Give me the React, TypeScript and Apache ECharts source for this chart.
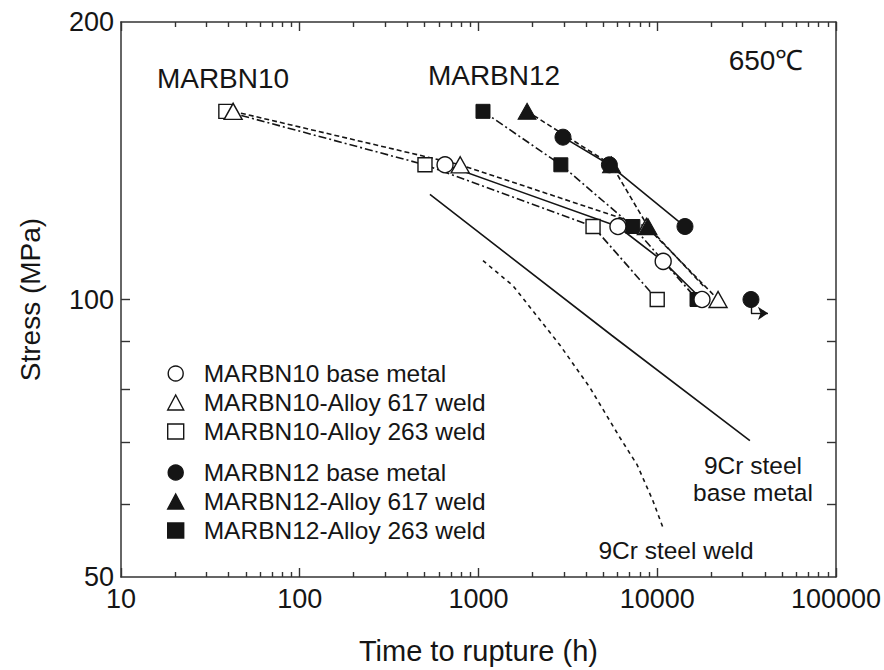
import React, { useEffect, useRef } from "react";
import * as echarts from "echarts";

// ---- axis ranges and tick values ----
const X_MIN = 10;
const X_MAX = 100000;
const Y_MIN = 50;
const Y_MAX = 200;
const xLabelValues = [10, 100, 1000, 10000, 100000];
const xMinorTickValues = [
  20, 30, 40, 50, 60, 70, 80, 90,
  200, 300, 400, 500, 600, 700, 800, 900,
  2000, 3000, 4000, 5000, 6000, 7000, 8000, 9000,
  20000, 30000, 40000, 50000, 60000, 70000, 80000, 90000,
];
const yLabelValues = [50, 100, 200];
const yTickValues = [60, 70, 80, 90, 100];

// ---- data: [time to rupture (h), stress (MPa)] ----
const marbn10Base = [[650, 140], [6030, 120], [10800, 110], [17800, 100]];
const marbn10Alloy617 = [[42.4, 160], [790, 140], [8700, 120], [21900, 100]];
const marbn10Alloy263 = [[38.6, 160], [502, 140], [4375, 120], [10000, 100]];
const marbn12Base = [[2970, 150], [5400, 140], [14300, 120]];
const marbn12BaseRunning = [[33460, 100]];
const marbn12Alloy617 = [[1870, 160], [5550, 140], [8870, 120]];
const marbn12Alloy617Tail = [[18500, 103]];
const marbn12Alloy263 = [[1060, 160], [2890, 140], [7310, 120], [16700, 100]];
const steel9CrBase = [[535, 130], [5580, 91.4], [33000, 70.3]];
const steel9CrWeld = [
  [1060, 110.2], [1560, 103.5], [2860, 89.2], [4210, 80.2],
  [6190, 70.8], [7710, 66.2], [9460, 60.5], [10760, 56.6],
];
const runningArrowDrop = [[33460, 98.5], [33460, 96.6]];
const runningArrowRun = [[33460, 96.6], [41660, 96.6]];

const legendGroup1 = ["MARBN10 base metal", "MARBN10-Alloy 617 weld", "MARBN10-Alloy 263 weld"];
const legendGroup2 = ["MARBN12 base metal", "MARBN12-Alloy 617 weld", "MARBN12-Alloy 263 weld"];

const FONT = "Liberation Sans, Arial, Helvetica, sans-serif";
const INK = "#151515";
const DASH = [5, 3];
const DASHDOT = [8, 3, 2, 3];

const lg = (v: number) => Math.log10(v);

export default function App() {
  const ref = useRef<HTMLDivElement>(null);

  useEffect(() => {
    if (!ref.current) return;
    const chart = echarts.init(ref.current, undefined, { renderer: "svg" });

    const line = (name: string, data: number[][], type: any) => ({
      type: "line",
      name,
      data,
      xAxisIndex: 0,
      yAxisIndex: 0,
      symbol: "none",
      silent: true,
      z: 2,
      lineStyle: { color: INK, width: 1.6, type },
    });

    const scatter = (
      name: string,
      data: number[][],
      symbol: string,
      size: any,
      open: boolean,
      z: number
    ) => ({
      type: "scatter",
      name,
      data,
      xAxisIndex: 0,
      yAxisIndex: 0,
      symbol,
      symbolSize: size,
      silent: true,
      z,
      itemStyle: open
        ? { color: "#fff", borderColor: INK, borderWidth: 1.4, opacity: 1 }
        : { color: INK, borderColor: INK, borderWidth: 1, opacity: 1 },
    });

    const hiddenAxisBase = {
      splitLine: { show: false },
      axisLine: { show: false },
      axisTick: { show: false },
      axisLabel: { show: false },
    };

    const tickAxisX = (position: string, values: number[], length: number, labels: boolean) => ({
      type: "value",
      gridIndex: 0,
      position,
      min: lg(X_MIN),
      max: lg(X_MAX),
      splitLine: { show: false },
      axisLine: { show: false },
      axisTick: {
        show: true,
        inside: true,
        length,
        customValues: values.map(lg),
        lineStyle: { color: "#333", width: 1.4 },
      },
      axisLabel: labels
        ? {
            show: true,
            customValues: xLabelValues.map(lg),
            formatter: (v: number) => String(Math.round(Math.pow(10, v))),
            fontFamily: FONT,
            fontSize: 27,
            color: INK,
            margin: 8,
          }
        : { show: false },
    });

    const tickAxisY = (position: string, labels: boolean) => ({
      type: "value",
      gridIndex: 0,
      position,
      min: lg(Y_MIN),
      max: lg(Y_MAX),
      splitLine: { show: false },
      axisLine: { show: false },
      axisTick: {
        show: true,
        inside: true,
        length: 9,
        customValues: yTickValues.map(lg),
        lineStyle: { color: "#333", width: 1.4 },
      },
      axisLabel: labels
        ? {
            show: true,
            customValues: yLabelValues.map(lg),
            formatter: (v: number) => String(Math.round(Math.pow(10, v))),
            fontFamily: FONT,
            fontSize: 27,
            color: INK,
            margin: 7,
          }
        : { show: false },
    });

    const legendCommon = {
      orient: "vertical",
      left: 167,
      padding: 0,
      itemWidth: 16,
      itemHeight: 15,
      itemGap: 0,
      symbolKeepAspect: true,
      selectedMode: false,
      itemStyle: { borderWidth: 1.4 },
      textStyle: {
        fontFamily: FONT,
        fontSize: 24.5,
        color: INK,
        lineHeight: 29,
        padding: [0, 0, 0, 15],
      },
    };
    const icons = ["circle", "triangle", "rect"];

    const text = (t: string, x: number, y: number, size: number) => ({
      type: "text",
      x,
      y,
      silent: true,
      style: {
        text: t,
        fontFamily: FONT,
        fontSize: size,
        fill: INK,
        align: "center",
        verticalAlign: "middle",
        textAlign: "center",
        textVerticalAlign: "middle",
      },
    });

    const arrowSeries = (data: number[][], withHead: boolean) => ({
      type: "lines",
      coordinateSystem: "cartesian2d",
      xAxisIndex: 0,
      yAxisIndex: 0,
      silent: true,
      symbol: withHead ? ["none", "arrow"] : ["none", "none"],
      symbolSize: 10,
      z: 3,
      lineStyle: { color: INK, width: 1.4, opacity: 1 },
      data: [{ coords: data }],
    });

    chart.setOption({
      animation: false,
      backgroundColor: "#fff",
      grid: { left: 121, right: 48, top: 22, bottom: 90, containLabel: false },
      xAxis: [
        {
          type: "log",
          logBase: 10,
          min: X_MIN,
          max: X_MAX,
          position: "bottom",
          ...hiddenAxisBase,
          axisLine: { show: true, lineStyle: { color: "#333", width: 1.5 } },
          name: "Time to rupture (h)",
          nameLocation: "middle",
          nameGap: 59,
          nameTextStyle: { fontFamily: FONT, fontSize: 29, color: INK },
        },
        tickAxisX("bottom", xLabelValues, 9, true),
        tickAxisX("bottom", xMinorTickValues, 5, false),
        {
          ...tickAxisX("top", xLabelValues, 9, false),
          axisLine: { show: true, lineStyle: { color: "#333", width: 1.5 } },
        },
        tickAxisX("top", xMinorTickValues, 5, false),
      ],
      yAxis: [
        {
          type: "log",
          logBase: 10,
          min: Y_MIN,
          max: Y_MAX,
          position: "left",
          ...hiddenAxisBase,
          axisLine: { show: true, lineStyle: { color: "#333", width: 1.5 } },
        },
        {
          ...tickAxisY("left", true),
          name: "Stress (MPa)",
          nameLocation: "middle",
          nameGap: 77,
          nameTextStyle: { fontFamily: FONT, fontSize: 28, color: INK },
        },
        {
          ...tickAxisY("right", false),
          axisLine: { show: true, lineStyle: { color: "#333", width: 1.5 } },
        },
      ],
      legend: [
        {
          ...legendCommon,
          top: 359,
          data: legendGroup1.map((n, i) => ({ name: n, icon: icons[i] })),
        },
        {
          ...legendCommon,
          top: 458,
          data: legendGroup2.map((n, i) => ({ name: n, icon: icons[i] })),
        },
      ],
      graphic: [
        text("MARBN10", 223, 78, 28),
        text("MARBN12", 494, 75, 28),
        text("650\u2103", 766, 60, 28),
        text("9Cr steel", 753, 465, 24.5),
        text("base metal", 753, 492, 24.5),
        text("9Cr steel weld", 676, 550, 24.5),
      ],
      series: [
        line("9Cr steel base metal", steel9CrBase, "solid"),
        line("9Cr steel weld", steel9CrWeld, [4, 4]),
        line("MARBN10 base metal line", marbn10Base, "solid"),
        line("MARBN10-Alloy 617 weld line", marbn10Alloy617, DASH),
        line("MARBN10-Alloy 263 weld line", marbn10Alloy263, DASHDOT),
        line("MARBN12 base metal line", marbn12Base, "solid"),
        line("MARBN12-Alloy 617 weld line", marbn12Alloy617.concat(marbn12Alloy617Tail), DASH),
        line("MARBN12-Alloy 263 weld line", marbn12Alloy263, DASHDOT),
        arrowSeries(runningArrowDrop, false),
        arrowSeries(runningArrowRun, true),
        scatter("MARBN12-Alloy 263 weld", marbn12Alloy263, "rect", 14, false, 3),
        scatter("MARBN10-Alloy 263 weld", marbn10Alloy263, "rect", 14, true, 3),
        scatter("MARBN10 base metal", marbn10Base, "circle", 16, true, 4),
        scatter("MARBN10-Alloy 617 weld", marbn10Alloy617, "triangle", [18, 16], true, 5),
        scatter("MARBN12 base metal", marbn12Base.concat(marbn12BaseRunning), "circle", 16, false, 6),
        scatter("MARBN12-Alloy 617 weld", marbn12Alloy617, "triangle", [18, 16], false, 6),
      ],
    });

    return () => chart.dispose();
  }, []);

  return (
    <div
      ref={ref}
      style={{ position: "absolute", left: 0, top: 0, width: 884, height: 670, background: "#fff" }}
    />
  );
}
